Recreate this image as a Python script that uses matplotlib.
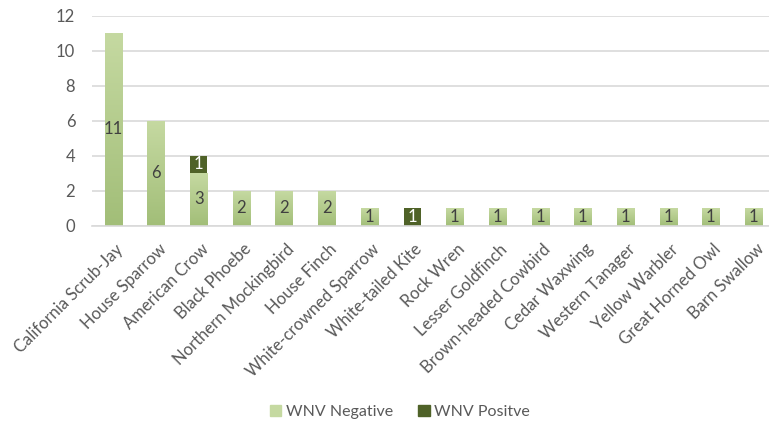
import numpy as np
import matplotlib.pyplot as plt
import matplotlib.transforms as mtransforms
from matplotlib.colors import LinearSegmentedColormap
from matplotlib.patches import Patch

birds = ["California Scrub-Jay", "House Sparrow", "American Crow", "Black Phoebe",
         "Northern Mockingbird", "House Finch", "White-crowned Sparrow", "White-tailed Kite",
         "Rock Wren", "Lesser Goldfinch", "Brown-headed Cowbird", "Cedar Waxwing",
         "Western Tanager", "Yellow Warbler", "Great Horned Owl", "Barn Swallow"]
negative = [11, 6, 3, 2, 2, 2, 1, 0, 1, 1, 1, 1, 1, 1, 1, 1]
positive = [0, 0, 1, 0, 0, 0, 0, 1, 0, 0, 0, 0, 0, 0, 0, 0]

plt.rcParams['font.family'] = ['Lato', 'DejaVu Sans']

light_top = (197/255, 217/255, 161/255)
light_bot = (162/255, 190/255, 120/255)
dark = '#4f6228'
grid_c = '#d9d9d9'
text_c = '#595959'

fig = plt.figure(figsize=(7.69, 4.21), dpi=100)
ax = fig.add_axes([0.1196, 0.4639, 0.888, 0.4988])

x = np.arange(len(birds))
w = 0.4
cmap = LinearSegmentedColormap.from_list('g', [light_bot, light_top])
grad = np.linspace(0, 1, 100).reshape(-1, 1)

bars_neg = ax.bar(x, negative, w, color=light_top, zorder=2)
bars_pos = ax.bar(x, positive, w, bottom=negative, color=dark, zorder=2)

# gradient fill for the light bars
for b in bars_neg:
    h = b.get_height()
    if h <= 0:
        continue
    b.set_facecolor('none')
    b.set_edgecolor('none')
    im = ax.imshow(grad, cmap=cmap, origin='lower', aspect='auto', zorder=2,
                   extent=[b.get_x(), b.get_x() + b.get_width(), 0, h])
    im.set_clip_path(b)

for i in range(len(birds)):
    if negative[i] > 0:
        ax.text(x[i], negative[i] / 2, str(negative[i]), ha='center', va='center',
                fontsize=12, color='#404040', zorder=3)
    if positive[i] > 0:
        ax.text(x[i], negative[i] + positive[i] / 2, str(positive[i]), ha='center',
                va='center', fontsize=12, color='white', zorder=3)

ax.set_xlim(-0.5, len(birds) - 0.5)
ax.set_ylim(0, 12)
ax.set_yticks(range(0, 13, 2))
ax.yaxis.grid(True, color=grid_c, lw=1.2, zorder=0)
ax.set_axisbelow(True)
for s in ['top', 'right', 'left']:
    ax.spines[s].set_visible(False)
ax.spines['bottom'].set_color(grid_c)
ax.spines['bottom'].set_linewidth(1.2)
ax.tick_params(axis='both', length=0, colors=text_c, labelsize=12)
ax.tick_params(axis='y', pad=12)
ax.set_xticks(x)
ax.set_xticklabels(birds, rotation=45, ha='right', rotation_mode='anchor')
ax.tick_params(axis='x', pad=11)
shift = mtransforms.ScaledTranslation(2 / 100, 0, fig.dpi_scale_trans)
for lbl in ax.get_xticklabels():
    lbl.set_transform(lbl.get_transform() + shift)

handles = [Patch(color=light_top, label='WNV Negative'),
           Patch(color=dark, label='WNV Positve')]
leg = fig.legend(handles=handles, loc='center', bbox_to_anchor=(0.52, 0.022),
                 ncol=2, frameon=False, fontsize=11.5, handlelength=0.7,
                 handleheight=0.7, handletextpad=0.3, columnspacing=1.6)
for t in leg.get_texts():
    t.set_color(text_c)

fig.savefig('out.png', dpi=100)
